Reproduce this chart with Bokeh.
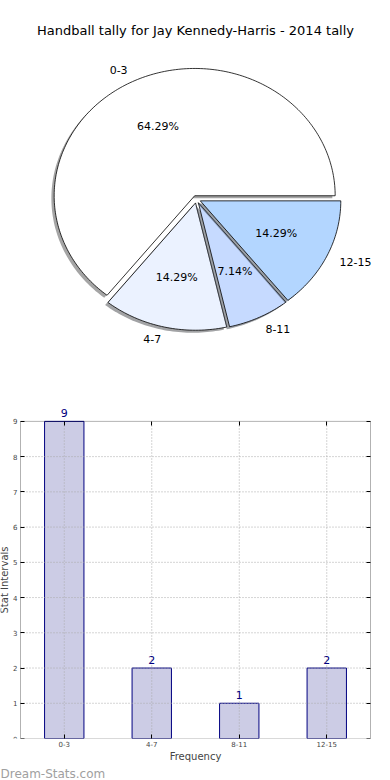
import math
from bokeh.plotting import figure
from bokeh.models import (ColumnDataSource, Range1d, FactorRange, LabelSet, FixedTicker,
                          BoxAnnotation, LinearAxis, CategoricalAxis)
from bokeh.layouts import column
from bokeh.embed import file_html
from bokeh.resources import INLINE
from bokeh.core.properties import value

# ---------------- data ----------------
title_text = "Handball tally for Jay Kennedy-Harris - 2014 tally"
categories = ["0-3", "4-7", "8-11", "12-15"]
counts = [9, 2, 1, 2]
slice_colors = ["#FFFFFF", "#EBF2FF", "#C6DAFF", "#B3D6FF"]
explode = [0.03, 0.03, 0.03, 0.03]
y_ticks = [0, 1, 2, 3, 4, 5, 6, 7, 8, 9]
x_label = "Frequency"
y_label = "Stat Intervals"
watermark = "Dream-Stats.com"

FONT = "DejaVu Sans"
W = 390
PIE_H = 388
BAR_H = 392

# ---------------- pie ----------------
RX, RY = 140.5, 127.3          # pixels per unit radius (elliptical pie)
CX, CY = 196.0, 198.7          # pie centre in page pixels

pie = figure(width=W, height=PIE_H, output_backend="svg", toolbar_location=None,
             x_range=Range1d(-CX / RX, (W - CX) / RX),
             y_range=Range1d(-(PIE_H - CY) / RY, CY / RY),
             x_axis_type=None, y_axis_type=None, min_border=0,
             outline_line_color=None)
pie.grid.visible = False


def darker(hexcol, f=0.3):
    h = hexcol.lstrip("#")
    r, g, b = (int(h[i:i + 2], 16) for i in (0, 2, 4))
    return "#%02x%02x%02x" % (int(r * f), int(g * f), int(b * f))


total = float(sum(counts))
xs, ys, fills, falphas, lcolors, lalphas = [], [], [], [], [], []
lab_x, lab_y, lab_t, lab_align = [], [], [], []
pct_x, pct_y, pct_t = [], [], []
start = 0.0
for cat, c, col, e in zip(categories, counts, slice_colors, explode):
    span = 2 * math.pi * c / total
    end = start + span
    mid = start + span / 2
    ox, oy = e * math.cos(mid), e * math.sin(mid)
    n = max(8, int(span / 0.02))
    ts = [start + (end - start) * i / n for i in range(n + 1)]
    px = [ox] + [ox + math.cos(t) for t in ts]
    py = [oy] + [oy + math.sin(t) for t in ts]
    # shadow
    xs.append([v - 0.02 for v in px]); ys.append([v - 0.02 for v in py])
    fills.append(darker(col)); falphas.append(0.5); lcolors.append(None); lalphas.append(0.0)
    # wedge
    xs.append(px); ys.append(py)
    fills.append(col); falphas.append(1.0); lcolors.append("black"); lalphas.append(1.0)
    # labels
    lx, ly = ox + 1.1 * math.cos(mid), oy + 1.1 * math.sin(mid)
    lab_x.append(lx); lab_y.append(ly); lab_t.append(cat)
    lab_align.append("left" if lx > 0 else "right")
    pct_x.append(ox + 0.6 * math.cos(mid)); pct_y.append(oy + 0.6 * math.sin(mid))
    pct_t.append("%.2f%%" % (100.0 * c / total))
    start = end

pie.patches(xs="xs", ys="ys", fill_color="fill", fill_alpha="falpha",
            line_color="lcolor", line_alpha="lalpha", line_width=0.8,
            source=ColumnDataSource(dict(xs=xs, ys=ys, fill=fills, falpha=falphas,
                                         lcolor=lcolors, lalpha=lalphas)))
pie.text(x="x", y="y", text="t", text_align="align", text_baseline="middle",
         text_font=value(FONT), text_font_size="11px", text_color="black",
         source=ColumnDataSource(dict(x=lab_x, y=lab_y, t=lab_t, align=lab_align)))
pie.text(x="x", y="y", text="t", text_align="center", text_baseline="middle",
         text_font=value(FONT), text_font_size="11px", text_color="black",
         source=ColumnDataSource(dict(x=pct_x, y=pct_y, t=pct_t)))
pie.text(x=[(195 - CX) / RX], y=[(CY - 30) / RY], text=[title_text],
         text_align="center", text_baseline="middle",
         text_font=value(FONT), text_font_size="13px", text_color="black")

# ---------------- bar ----------------
BOX_L, BOX_R = 20, 370            # axes box, page pixels
BT, BB = 14, 40
box_top_px = 421 - PIE_H          # top of the axes box inside bar figure
frame_h = BAR_H - BT - BB
y_max = max(y_ticks)
box_h = frame_h - (box_top_px - BT)
y_top = y_max * frame_h / box_h   # headroom so the value labels fit
n_cat = len(categories)
px_per_cat = (BOX_R - BOX_L) / n_cat
pad = BOX_L / px_per_cat

bar = figure(width=W, height=BAR_H, output_backend="svg", toolbar_location=None,
             x_range=FactorRange(factors=categories, range_padding=pad,
                                 range_padding_units="absolute"),
             y_range=Range1d(0, y_top),
             min_border_left=0, min_border_right=0, min_border_top=BT, min_border_bottom=BB,
             outline_line_color=None, title_location="below")

src = ColumnDataSource(dict(cat=categories, count=counts, lab=[str(v) for v in counts],
                            y0=[0] * n_cat, y1=[y_max] * n_cat))
bar.vbar(x="cat", top="count", width=0.45, source=src,
         fill_color="#CCCCE5", line_color="#000080", line_width=1)

# grid lines limited to the axes box
gy = y_ticks[1:-1]
bar.segment(x0="cat", y0="y0", x1="cat", y1="y1", source=src,
            line_color="#aaaaaa", line_dash="1 2", line_width=1)
bar.segment(x0=[0] * len(gy), y0=gy, x1=[n_cat] * len(gy), y1=gy,
            line_color="#aaaaaa", line_dash="1 2", line_width=1)
bar.grid.visible = False

bar.add_layout(BoxAnnotation(left=0, right=n_cat, bottom=0, top=y_max,
                             fill_alpha=0, line_color="black", line_width=1, level="overlay"))

bar.yaxis.ticker = FixedTicker(ticks=y_ticks)
bar.yaxis.bounds = (0, y_max)
bar.yaxis.fixed_location = 0

for ax in (bar.xaxis, bar.yaxis):
    ax.major_tick_in = 4
    ax.major_tick_out = 0
    ax.minor_tick_line_color = None
    ax.axis_line_color = None
    ax.major_label_text_font = FONT
    ax.major_label_text_font_size = "7px"
    ax.axis_label_text_font = FONT
    ax.axis_label_text_font_size = "10px"
    ax.axis_label_text_font_style = "normal"
    ax.axis_label_standoff = 1

bar.yaxis.major_label_standoff = 3
bar.yaxis.axis_label_standoff = 0
bar.xaxis.major_label_standoff = 2
bar.xaxis.axis_label = x_label
bar.yaxis.axis_label = y_label

# mirrored tick marks on the right and top edges of the box
right_ax = LinearAxis(ticker=FixedTicker(ticks=y_ticks), bounds=(0, y_max),
                      fixed_location=n_cat, major_tick_in=4, major_tick_out=0,
                      minor_tick_line_color=None, axis_line_color=None,
                      major_label_text_alpha=0, major_label_text_font_size="1px")
bar.add_layout(right_ax, "right")
top_ax = CategoricalAxis(fixed_location=y_max, major_tick_in=4, major_tick_out=0,
                         axis_line_color=None, major_label_text_alpha=0,
                         major_label_text_font_size="1px")
bar.add_layout(top_ax, "above")

bar.add_layout(LabelSet(x="cat", y="count", text="lab", source=src, y_offset=4,
                        text_align="center", text_baseline="alphabetic",
                        text_color="#000080", text_font=value(FONT), text_font_size="11px"))

bar.title.text = watermark
bar.title.align = "left"
bar.title.offset = 0
bar.title.text_color = "#a0a0a0"
bar.title.text_font = FONT
bar.title.text_font_size = "12px"
bar.title.text_font_style = "normal"
bar.title.standoff = 0

layout = column(pie, bar)
open("out.html", "w").write(file_html(layout, INLINE))
